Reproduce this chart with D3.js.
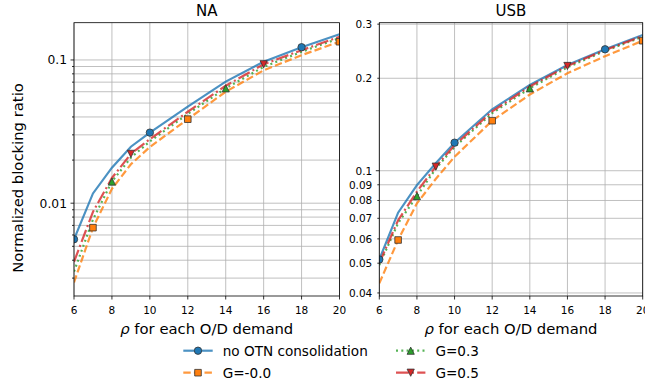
<!DOCTYPE html>
<html>
<head>
<meta charset="utf-8">
<script src="https://cdn.jsdelivr.net/npm/d3@7"></script>
<style>
  body { margin: 0; background: #fff; }
  text { font-family: "DejaVu Sans", sans-serif; fill: #000; }
</style>
</head>
<body>
<svg id="chart" width="645" height="385"></svg>
<script>
// load values, x axis
var rho = [6, 7, 8, 9, 10, 12, 14, 16, 18, 20];
var xTicks = [6, 8, 10, 12, 14, 16, 18, 20];

// NA network
var naNoOtn = [0.0056, 0.0117, 0.0177, 0.0248, 0.0311, 0.0472, 0.0706, 0.0973, 0.1227, 0.151];
var naG00   = [0.0028, 0.00675, 0.0126, 0.0187, 0.0247, 0.0386, 0.0600, 0.0846, 0.108, 0.134];
var naG03   = [0.00333, 0.0077, 0.01416, 0.0208, 0.0270, 0.0420, 0.0634, 0.0895, 0.114, 0.142];
var naG05   = [0.0039, 0.0087, 0.0150, 0.0221, 0.0280, 0.0435, 0.0660, 0.0933, 0.117, 0.145];

// USB network
var usbNoOtn = [0.0514, 0.0730, 0.0898, 0.1057, 0.1234, 0.1585, 0.1902, 0.221, 0.2485, 0.2767];
var usbG00   = [0.0430, 0.0595, 0.0783, 0.094, 0.111, 0.1455, 0.177, 0.2077, 0.236, 0.265];
var usbG03   = [0.0493, 0.0675, 0.0827, 0.1015, 0.1195, 0.154, 0.1855, 0.217, 0.2455, 0.273];
var usbG05   = [0.0500, 0.069, 0.0855, 0.1031, 0.121, 0.156, 0.188, 0.2193, 0.247, 0.2745];

var seriesNames = ["no OTN consolidation", "G=-0.0", "G=0.3", "G=0.5"];

var styles = [
  {color: "#1f77b4", dash: null,             marker: "o", offset: 0},
  {color: "#ff7f0e", dash: "7.4,3.2",        marker: "s", offset: 1},
  {color: "#2ca02c", dash: "2,3.3",          marker: "^", offset: 2},
  {color: "#d62728", dash: "12.8,3.2,2,3.2", marker: "v", offset: 3}
];

var panels = [
  {title: "NA",  data: [naNoOtn, naG00, naG03, naG05],     left: 74,    right: 339.5, yDom: [0.00225, 0.182], labelMinor: false, tickSize: 12.3},
  {title: "USB", data: [usbNoOtn, usbG00, usbG03, usbG05], left: 379.3, right: 642.7, yDom: [0.0391, 0.3033], labelMinor: true,  tickSize: 10.5}
];

var plotTop = 22.7, plotBottom = 296;
var lineOpacity = 0.8;
var svg = d3.select("#chart");
var defs = svg.append("defs");

function markerPath(type) {
  var s = 3.6;
  if (type == "o") return d3.symbol().type(d3.symbolCircle).size(Math.PI * 3.7 * 3.7)();
  if (type == "s") return "M-3.3,-3.3h6.6v6.6h-6.6z";
  if (type == "^") return "M0," + (-s) + "L" + s + "," + s + "L" + (-s) + "," + s + "Z";
  return "M0," + s + "L" + s + "," + (-s) + "L" + (-s) + "," + (-s) + "Z";
}

panels.forEach(function (p, pi) {
  var x = d3.scaleLinear().domain([6, 20]).range([p.left, p.right]);
  var y = d3.scaleLog().domain(p.yDom).range([plotBottom, plotTop]);
  var yTicks = y.ticks();
  var fmt = d3.format("~g");
  var isMajor = function (v) { return Math.abs(Math.log10(v) - Math.round(Math.log10(v))) < 1e-6; };

  var g = svg.append("g");

  defs.append("clipPath").attr("id", "clip" + pi)
    .append("rect")
    .attr("x", p.left).attr("y", plotTop)
    .attr("width", p.right - p.left).attr("height", plotBottom - plotTop);

  // grid
  g.selectAll(".xgrid").data(xTicks).enter().append("line")
    .attr("x1", d => x(d)).attr("x2", d => x(d))
    .attr("y1", plotTop).attr("y2", plotBottom)
    .style("stroke", "#b0b0b0").style("stroke-width", 0.8);
  g.selectAll(".ygrid").data(yTicks).enter().append("line")
    .attr("x1", p.left).attr("x2", p.right)
    .attr("y1", d => y(d)).attr("y2", d => y(d))
    .style("stroke", "#b0b0b0").style("stroke-width", 0.8);

  // lines + markers
  var plot = g.append("g").attr("clip-path", "url(#clip" + pi + ")");
  p.data.forEach(function (vals, si) {
    var st = styles[si];
    var pts = rho.map((r, i) => [r, vals[i]]);
    var line = d3.line().x(d => x(d[0])).y(d => y(d[1]));
    plot.append("path")
      .datum(pts)
      .attr("fill", "none")
      .attr("stroke", st.color)
      .attr("stroke-opacity", lineOpacity)
      .attr("stroke-width", 2.2)
      .attr("stroke-dasharray", st.dash)
      .attr("d", line);
  });
  p.data.forEach(function (vals, si) {
    var st = styles[si];
    rho.forEach(function (r, i) {
      if (i < st.offset || (i - st.offset) % 4 != 0) return;
      plot.append("path")
        .attr("d", markerPath(st.marker))
        .attr("transform", "translate(" + x(r) + "," + y(vals[i]) + ")")
        .attr("fill", st.color)
        .attr("stroke", "#333")
        .attr("stroke-width", 0.8);
    });
  });

  // spines
  g.append("rect")
    .attr("x", p.left).attr("y", plotTop)
    .attr("width", p.right - p.left).attr("height", plotBottom - plotTop)
    .attr("fill", "none").attr("stroke", "#000").attr("stroke-width", 0.8);

  // x ticks
  g.selectAll(".xt").data(xTicks).enter().append("line")
    .attr("x1", d => x(d)).attr("x2", d => x(d))
    .attr("y1", plotBottom).attr("y2", plotBottom + 3.5)
    .attr("stroke", "#000").attr("stroke-width", 0.8);
  g.selectAll(".xl").data(xTicks).enter().append("text")
    .attr("x", d => x(d)).attr("y", 314)
    .attr("text-anchor", "middle")
    .style("font-size", "10.5px")
    .text(d => d);

  // y ticks
  g.selectAll(".yt").data(yTicks).enter().append("line")
    .attr("x1", d => p.left - (isMajor(d) ? 3.5 : 2)).attr("x2", p.left)
    .attr("y1", d => y(d)).attr("y2", d => y(d))
    .attr("stroke", "#000").attr("stroke-width", 0.8);
  g.selectAll(".yl").data(yTicks.filter(d => p.labelMinor || isMajor(d))).enter().append("text")
    .attr("x", p.left - 7).attr("y", d => y(d))
    .attr("dy", "0.36em")
    .attr("text-anchor", "end")
    .style("font-size", p.tickSize + "px")
    .text(d => fmt(d));

  // title + x label
  g.append("text")
    .attr("x", (p.left + p.right) / 2).attr("y", 16)
    .attr("text-anchor", "middle")
    .style("font-size", "15px")
    .text(p.title);
  var xl = g.append("text")
    .attr("x", (p.left + p.right) / 2).attr("y", 334)
    .attr("text-anchor", "middle")
    .style("font-size", "14.8px");
  xl.append("tspan").style("font-style", "italic").text("ρ");
  xl.append("tspan").text(" for each O/D demand");
});

// y label
svg.append("text")
  .attr("transform", "translate(23,178) rotate(-90)")
  .attr("text-anchor", "middle")
  .style("font-size", "14.8px")
  .text("Normalized blocking ratio");

// legend, two columns
var legendPos = [[183.3, 350.7], [183.3, 372.7], [396, 350.7], [396, 372.7]];
seriesNames.forEach(function (name, i) {
  var st = styles[i];
  var lg = svg.append("g").attr("transform", "translate(" + legendPos[i][0] + "," + legendPos[i][1] + ")");
  lg.append("line")
    .attr("x1", 0).attr("x2", 29.4).attr("y1", 0).attr("y2", 0)
    .attr("stroke", st.color).attr("stroke-width", 2.2)
    .attr("stroke-opacity", lineOpacity)
    .attr("stroke-dasharray", st.dash);
  lg.append("path")
    .attr("d", markerPath(st.marker))
    .attr("transform", "translate(14.7,0)")
    .attr("fill", st.color).attr("stroke", "#333").attr("stroke-width", 0.8);
  lg.append("text")
    .attr("x", 39.4).attr("y", 0).attr("dy", "0.36em")
    .style("font-size", "13.6px")
    .text(name);
});
</script>
</body>
</html>
